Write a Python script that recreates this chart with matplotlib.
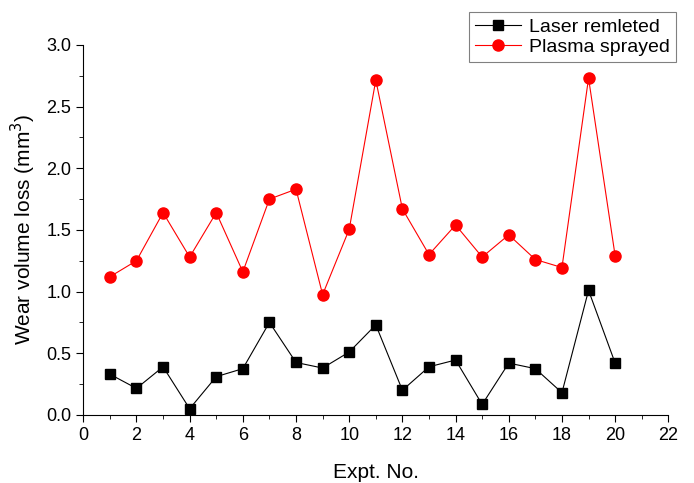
import matplotlib
matplotlib.use("Agg")
import matplotlib.pyplot as plt
from matplotlib.ticker import MultipleLocator

plt.rcParams['font.family'] = ['Liberation Sans', 'DejaVu Sans']

# experiment numbers and wear volume loss (mm^3)
expt = list(range(1, 21))
laser = [0.33, 0.215, 0.39, 0.05, 0.31, 0.375, 0.75, 0.425, 0.38, 0.51,
         0.73, 0.20, 0.39, 0.445, 0.085, 0.42, 0.375, 0.18, 1.01, 0.42]
plasma = [1.12, 1.25, 1.64, 1.28, 1.64, 1.16, 1.75, 1.83, 0.975, 1.505,
          2.715, 1.67, 1.30, 1.54, 1.28, 1.46, 1.26, 1.195, 2.73, 1.29]

fig = plt.figure(figsize=(6.94, 4.83), dpi=100)
ax = fig.add_axes([0.12, 0.141, 0.843, 0.766])

ax.plot(expt, laser, 'k-s', lw=0.8, ms=6.5, label='Laser remleted')
ax.plot(expt, plasma, '-o', color='red', lw=0.8, ms=8, label='Plasma sprayed')

ax.set_xlim(0, 22)
ax.set_ylim(0, 3.0)
ax.xaxis.set_major_locator(MultipleLocator(2))
ax.xaxis.set_minor_locator(MultipleLocator(1))
ax.yaxis.set_major_locator(MultipleLocator(0.5))
ax.yaxis.set_minor_locator(MultipleLocator(0.25))
ax.yaxis.set_major_formatter(plt.FormatStrFormatter('%.1f'))
ax.spines['top'].set_visible(False)
ax.spines['right'].set_visible(False)
ax.tick_params(which='major', direction='out', length=5, labelsize=13)
ax.tick_params(which='minor', direction='out', length=3)

ax.set_xlabel('Expt. No.', fontsize=15, labelpad=14)
ax.set_ylabel('Wear volume loss (mm$^3$)', fontsize=15, labelpad=6)

leg = fig.legend(loc='upper right', bbox_to_anchor=(0.988, 0.995), fontsize=14,
                 fancybox=False, framealpha=1, edgecolor='gray',
                 handlelength=2.4, handletextpad=0.4, borderpad=0.3,
                 labelspacing=0.15)
leg.get_frame().set_linewidth(0.8)

fig.savefig('out.png', dpi=100)
